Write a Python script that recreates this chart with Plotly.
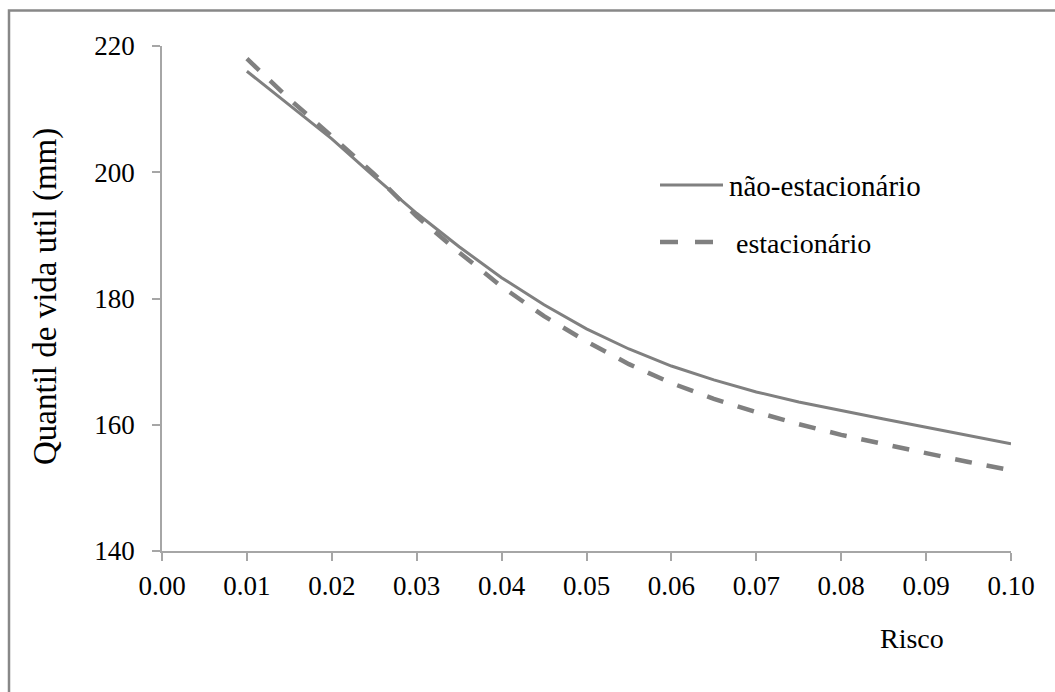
import plotly.graph_objects as go

# Risk levels and lifetime quantiles (mm)
risco = [0.010, 0.015, 0.020, 0.025, 0.030, 0.035, 0.040, 0.045, 0.050, 0.055,
         0.060, 0.065, 0.070, 0.075, 0.080, 0.085, 0.090, 0.095, 0.100]
nao_estacionario = [216.0, 210.6, 205.3, 199.3, 193.5, 188.2, 183.3, 179.0, 175.2, 172.0,
                    169.3, 167.1, 165.2, 163.6, 162.2, 160.9, 159.6, 158.3, 157.0]
estacionario = [218.0, 211.6, 205.7, 199.7, 193.0, 187.3, 181.9, 177.2, 173.2, 169.6,
                166.6, 164.1, 162.0, 160.1, 158.4, 156.9, 155.5, 154.1, 152.8]

x_ticks = [0.00, 0.01, 0.02, 0.03, 0.04, 0.05, 0.06, 0.07, 0.08, 0.09, 0.10]
y_ticks = [140, 160, 180, 200, 220]

FONT = "Liberation Serif"
CURVE = "#808080"
AXIS = "#a6a6a6"
TXT = 28

W, H = 1055, 692
L, R, T, B = 162, 44, 46, 141
PW, PH = W - L - R, H - T - B


def px(x):
    return (x - L) / PW


def py(y):
    return (H - B - y) / PH


fig = go.Figure()
fig.add_trace(go.Scatter(x=risco, y=nao_estacionario, mode="lines",
                         line=dict(color=CURVE, width=3), name="não-estacionário",
                         showlegend=False))
fig.add_trace(go.Scatter(x=risco, y=estacionario, mode="lines",
                         line=dict(color=CURVE, width=4.5, dash="17px,15px"),
                         name="estacionário", showlegend=False))

shapes = [
    # outer frame
    dict(type="rect", xref="paper", yref="paper",
         x0=px(9), x1=px(1070), y0=py(10.5), y1=py(720),
         line=dict(color="#888888", width=2.5), fillcolor="rgba(0,0,0,0)", layer="below"),
    # legend samples
    dict(type="line", xref="paper", yref="paper", x0=px(660), x1=px(723),
         y0=py(185), y1=py(185), line=dict(color=CURVE, width=3)),
    dict(type="line", xref="paper", yref="paper", x0=px(660), x1=px(714),
         y0=py(242), y1=py(242), line=dict(color=CURVE, width=4.5, dash="18px,17px")),
]

annotations = [
    dict(text="não-estacionário", xref="paper", yref="paper", x=px(727), y=py(186),
         xanchor="left", yanchor="middle", showarrow=False,
         font=dict(family=FONT, size=29, color="#000")),
    dict(text="estacionário", xref="paper", yref="paper", x=px(734), y=py(243),
         xanchor="left", yanchor="middle", showarrow=False,
         font=dict(family=FONT, size=TXT, color="#000")),
    dict(text="Quantil de vida util (mm)", xref="paper", yref="paper", x=px(45), y=py(297),
         xanchor="center", yanchor="middle", textangle=-90, showarrow=False,
         font=dict(family=FONT, size=33, color="#000")),
    dict(text="Risco", xref="paper", yref="paper", x=px(912), y=py(638),
         xanchor="center", yanchor="middle", showarrow=False,
         font=dict(family=FONT, size=TXT, color="#000")),
]

fig.update_layout(
    width=W, height=H,
    margin=dict(l=L, r=R, t=T, b=B, pad=0),
    paper_bgcolor="white", plot_bgcolor="white",
    font=dict(family=FONT, size=27, color="#000"),
    shapes=shapes, annotations=annotations,
    xaxis=dict(range=[0, 0.10], tickvals=x_ticks,
               ticktext=[f"{v:.2f}" for v in x_ticks],
               showgrid=False, zeroline=False, showline=True,
               linecolor=AXIS, linewidth=1.5, ticks="outside", ticklen=8,
               tickcolor=AXIS, tickwidth=1.5, ticklabelstandoff=2),
    yaxis=dict(range=[140, 220], tickvals=y_ticks,
               showgrid=False, zeroline=False, showline=True,
               linecolor=AXIS, linewidth=1.5, ticks="outside", ticklen=8,
               tickcolor=AXIS, tickwidth=1.5, ticklabelstandoff=12),
)

fig.write_html("out.html")
